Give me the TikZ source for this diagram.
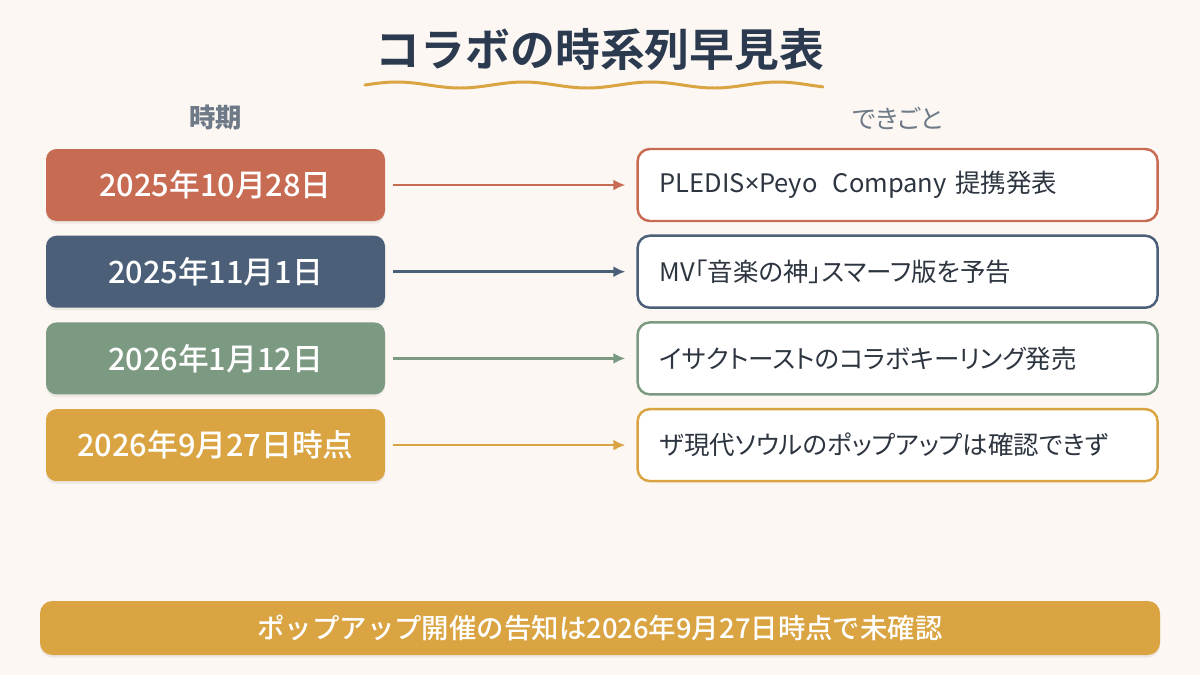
\documentclass[tikz,border=0pt]{standalone}
\usepackage{fontspec}
\setmainfont{Noto Sans CJK JP}[BoldFont={Noto Sans CJK JP Medium}]
\newfontfamily\propfont{Noto Sans CJK JP}[RawFeature=+palt]
\newfontfamily\heavyfont{Noto Sans CJK JP Bold}
\newfontfamily\latinfont{Noto Sans}
\usepackage{xcolor}
\usetikzlibrary{arrows.meta, positioning, shadows}

\definecolor{bgcream}{HTML}{FCF7F2}
\definecolor{titlenavy}{HTML}{2B3A4F}
\definecolor{headgray}{HTML}{6E7A87}
\definecolor{textdark}{HTML}{2D3540}
\definecolor{terra}{HTML}{C86B53}
\definecolor{slate}{HTML}{4B6078}
\definecolor{sage}{HTML}{7C9A82}
\definecolor{gold}{HTML}{D9A441}

\begin{document}
\begin{tikzpicture}[
    node distance=0.28cm and 5.02cm,
    datebox/.style={rectangle, rounded corners=6pt, minimum width=6.78cm, minimum height=1.44cm, align=center, text=white, font=\fontsize{17.5}{20}\selectfont\bfseries, drop shadow={opacity=0.12, shadow xshift=0pt, shadow yshift=-1.5pt}},
    eventbox/.style={draw, line width=1.4pt, fill=white, rectangle, rounded corners=7pt, minimum height=1.44cm, text width=9.52cm, inner xsep=0.44cm, align=left, text=textdark, font=\propfont\fontsize{14.5}{17}\selectfont},
    header/.style={text=headgray, font=\propfont\fontsize{14.5}{18}\selectfont},
    banner/.style={fill=gold, rectangle, rounded corners=7pt, minimum width=22.4cm, minimum height=1.08cm, text=white, font=\fontsize{15.6}{18}\selectfont\bfseries, drop shadow={opacity=0.12, shadow xshift=0pt, shadow yshift=-1.5pt}},
    line/.style={draw, -{Latex[length=2.4mm, width=2.2mm]}, line width=1.5pt, shorten <=0.16cm, shorten >=0.22cm}
]
    \useasboundingbox (0,0) rectangle (24,-13.5);
    \fill[bgcream] (0,0) rectangle (24,-13.5);

    % title with wavy underline
    \node[text=titlenavy, font=\heavyfont\fontsize{25.5}{30}\selectfont] (title) at (12,-1.0) {コラボの時系列早見表};
    \draw[gold, line width=1.7pt, line cap=round, domain=7.3:16.46, samples=120]
        plot (\x, {-1.70+0.06*sin((\x-7.3)*360/2.54)});

    % left column: dates
    \node[datebox, fill=terra] (d1) at (4.31,-3.70) {2025年10月28日};
    \node[datebox, fill=slate, below=of d1] (d2) {2025年11月1日};
    \node[datebox, fill=sage, below=of d2] (d3) {2026年1月12日};
    \node[datebox, fill=gold, below=of d3] (d4) {2026年9月27日時点};

    % right column: events
    \node[eventbox, draw=terra, right=of d1] (e1) {PLEDIS{\latinfont ×}Peyo\hspace{0.6em}Company 提携発表};
    \node[eventbox, draw=slate, right=of d2] (e2) {MV「音楽の神」スマーフ版を予告};
    \node[eventbox, draw=sage, right=of d3] (e3) {イサクトーストのコラボキーリング発売};
    \node[eventbox, draw=gold, right=of d4] (e4) {ザ現代ソウルのポップアップは確認できず};

    % column headers
    \node[header, font=\propfont\fontsize{15}{18}\selectfont\bfseries, above=0.24cm of d1] (hdate) {時期};
    \node[header, above=0.24cm of e1] (hevent) {できごと};

    \draw[line, terra] (d1) -- (e1);
    \draw[line, slate] (d2) -- (e2);
    \draw[line, sage] (d3) -- (e3);
    \draw[line, gold] (d4) -- (e4);

    % bottom note
    \node[banner] (note) at (12,-12.56) {ポップアップ開催の告知は2026年9月27日時点で未確認};
\end{tikzpicture}
\end{document}
